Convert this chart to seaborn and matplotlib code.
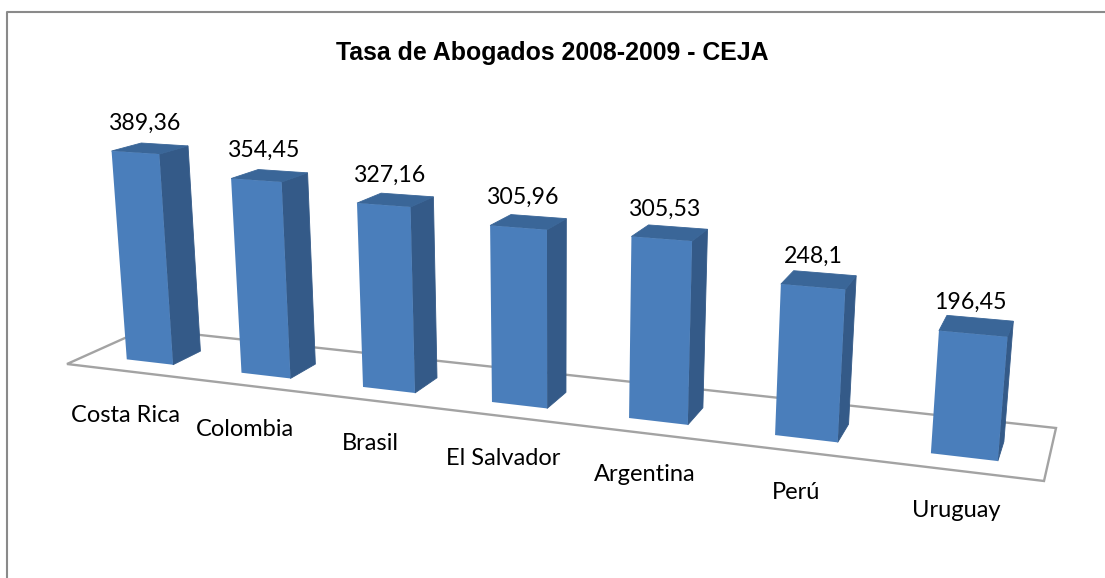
import numpy as np
import pandas as pd
import matplotlib
matplotlib.use("Agg")
import matplotlib.pyplot as plt
import matplotlib.transforms as mtransforms
from matplotlib.patches import Polygon
import seaborn as sns

# DATA
paises = ["Costa Rica", "Colombia", "Brasil", "El Salvador", "Argentina", "Perú", "Uruguay"]
tasas = [389.36, 354.45, 327.16, 305.96, 305.53, 248.1, 196.45]
etiquetas = ["389,36", "354,45", "327,16", "305,96", "305,53", "248,1", "196,45"]

# COLORS
FRONT = "#4A7EBB"
SIDE = "#345A88"
TOP = "#3A6698"
FLOOR = "#A3A3A3"
FRAME = "#8A8A8A"

# PERSPECTIVE (pixels of the floor corners: front-left, front-right, back-right, back-left)
FLOOR_PX = np.array([[67, 364], [1044, 481], [1056, 428], [145, 329]], dtype=float)
VERT_VP = (553.0, 6200.0)
X_MIN, X_MAX = -0.56, 6.50
Z_FRONT, Z_BACK = 0.25, 0.62
BAR_W = 0.41


def fit_homography(src, dst):
    A, b = [], []
    for (x, y), (u, v) in zip(src, dst):
        A.append([x, y, 1, 0, 0, 0, -u * x, -u * y])
        A.append([0, 0, 0, x, y, 1, -v * x, -v * y])
        b += [u, v]
    return np.append(np.linalg.solve(np.array(A), np.array(b)), 1).reshape(3, 3)


H = fit_homography([(X_MIN, 0), (X_MAX, 0), (X_MAX, 1), (X_MIN, 1)], FLOOR_PX)

# scale of the height axis, taken from the first bar: base y 357 -> top y 151
base = H @ np.array([-BAR_W / 2, Z_FRONT, 1.0])
K = base[2] * (base[1] / base[2] - 151.0) / (tasas[0] * (151.0 - VERT_VP[1]))


def project(x, h, z):
    x, h, z = np.asarray(x, float), np.asarray(h, float), np.asarray(z, float)
    w = H[2, 0] * x + H[2, 1] * z + H[2, 2] + h * K
    px = (H[0, 0] * x + H[0, 1] * z + H[0, 2] + h * K * VERT_VP[0]) / w
    py = (H[1, 0] * x + H[1, 1] * z + H[1, 2] + h * K * VERT_VP[1]) / w
    return np.column_stack([px, py])


class FrontPlane(mtransforms.Transform):
    input_dims = 2
    output_dims = 2

    def transform_non_affine(self, values):
        values = np.asarray(values)
        return project(values[:, 0], values[:, 1], np.full(len(values), Z_FRONT))


sns.set_theme(style="white")
plt.rcParams["font.family"] = ["Lato", "DejaVu Sans"]

df = pd.DataFrame({"pais": paises, "tasa": tasas})

fig = plt.figure(figsize=(11.05, 5.78), dpi=100)
ax = fig.add_axes([0, 0, 1, 1])
sns.barplot(data=df, x="pais", y="tasa", color=FRONT, saturation=1, width=BAR_W, ax=ax, zorder=3)
bars = list(ax.patches)

ax.set_xlim(0, 1105)
ax.set_ylim(578, 0)
ax.axis("off")

# floor
floor = project([X_MIN, X_MAX, X_MAX, X_MIN], [0, 0, 0, 0], [0, 0, 1, 1])
ax.add_patch(Polygon(floor, closed=True, fill=False, edgecolor=FLOOR, linewidth=1.7, zorder=1))

# faces
for i, (bar, nombre, texto) in enumerate(zip(bars, paises, etiquetas)):
    x0 = bar.get_x()
    x1 = x0 + bar.get_width()
    h = bar.get_height()
    bar.set_transform(FrontPlane() + ax.transData)
    bar.set_linewidth(0)

    side = project([x1, x1, x1, x1], [0, 0, h, h], [Z_FRONT, Z_BACK, Z_BACK, Z_FRONT])
    top = project([x0, x1, x1, x0], [h, h, h, h], [Z_FRONT, Z_FRONT, Z_BACK, Z_BACK])
    ax.add_patch(Polygon(side, closed=True, facecolor=SIDE, edgecolor=SIDE, linewidth=0.6, zorder=2))
    ax.add_patch(Polygon(top, closed=True, facecolor=TOP, edgecolor=TOP, linewidth=0.6, zorder=2))

    xc = (x0 + x1) / 2
    p = project([xc], [h], [(Z_FRONT + Z_BACK) / 2])[0]
    ax.text(p[0] - 6, p[1] - (25.5 - 0.4 * i), texto, ha="center", va="center", fontsize=16.7, color="black", zorder=4)
    q = project([xc], [0], [Z_FRONT])[0]
    ax.text(q[0] - 24 + 2.7 * i, q[1] + 53.5, nombre, ha="center", va="center", fontsize=17, color="black", zorder=4)

ax.text(552, 53, "Tasa de Abogados 2008-2009 - CEJA", ha="center", va="center",
        fontsize=17.9, fontweight="bold", family="Liberation Sans", color="black")

# chart frame, only the left and top sides show
ax.plot([6.5, 6.5, 1105], [578, 12, 12], color=FRAME, linewidth=1.5, zorder=0)

plt.savefig("out.png", dpi=100)
plt.close()
